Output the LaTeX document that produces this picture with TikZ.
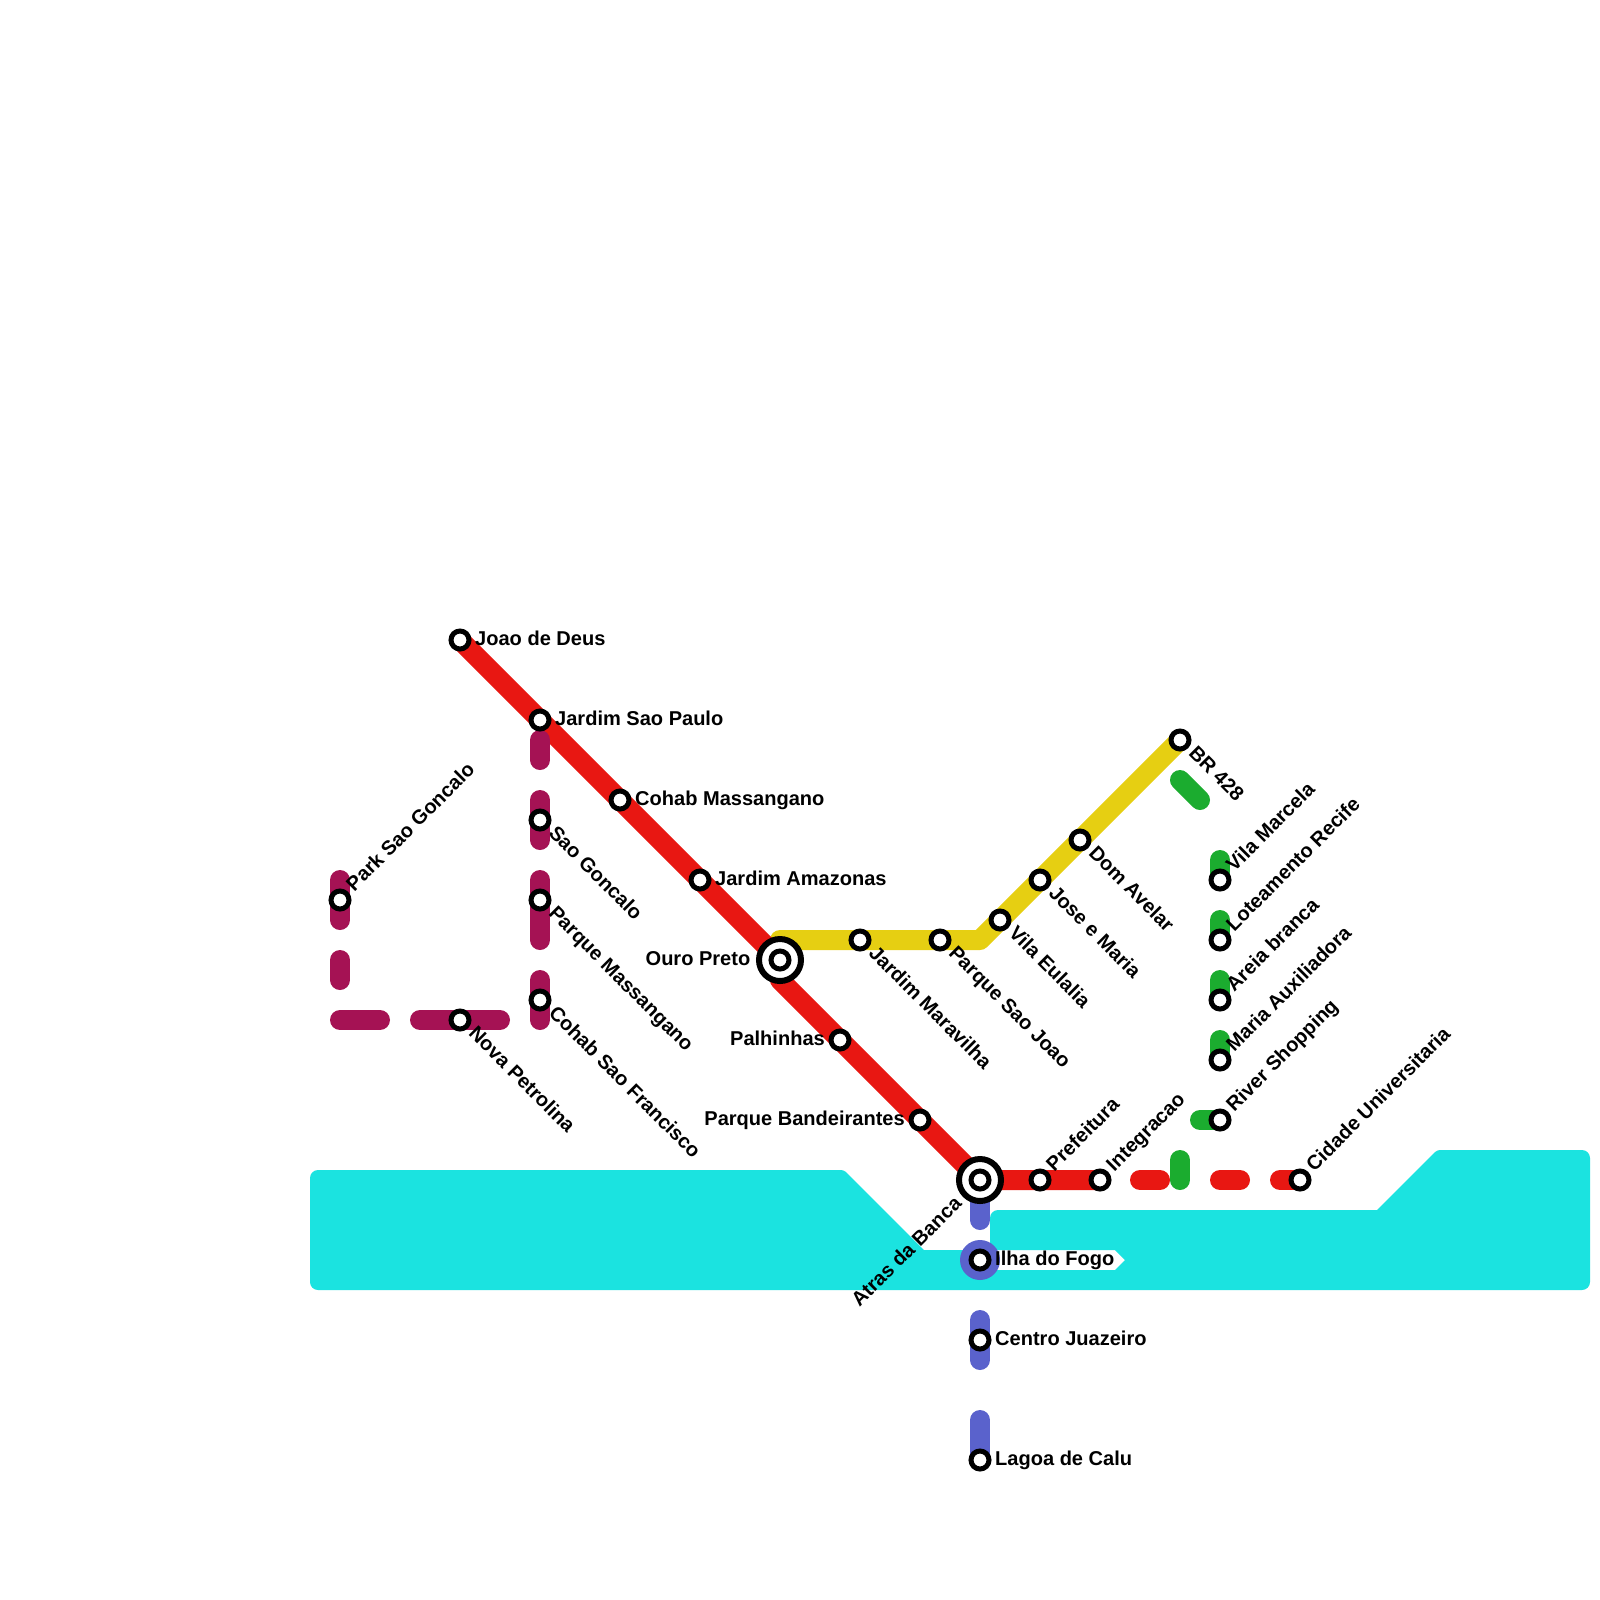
\documentclass[tikz,border=0pt]{standalone}
\usepackage{fontspec}
\setmainfont{Liberation Sans}
\usetikzlibrary{backgrounds}
\definecolor{redline}{HTML}{E81712}
\definecolor{yellowline}{HTML}{E6CF12}
\definecolor{plumline}{HTML}{A51254}
\definecolor{greenline}{HTML}{1BAC2F}
\definecolor{blueline}{HTML}{5A62CC}
\definecolor{water}{HTML}{1BE3E0}
\tikzset{
  route/.style={line width=2mm,line cap=round,line join=round},
  stopdot/.style={circle,draw=black,fill=white,line width=0.5mm,minimum size=1.8mm,inner sep=0pt},
  hubring/.style={circle,draw=black,fill=white,line width=0.6mm,minimum size=4.2mm,inner sep=0pt},
  stoplabel/.style={font=\bfseries\fontsize{5.7}{6.8}\selectfont,inner sep=0pt,text=black,text height=1.44mm,text depth=0pt},
  lblright/.style={stoplabel,anchor=west,shift={(1.45mm,0.2mm)}},
  lblleft/.style={stoplabel,anchor=east,shift={(-1.45mm,0.2mm)}},
  lblup/.style={stoplabel,rotate=45,anchor=west,shift={(1.5mm,0.25mm)}},
  lbldown/.style={stoplabel,rotate=-45,anchor=west,shift={(1.5mm,0.25mm)}}
}

\begin{document}
\begin{tikzpicture}[x=0.2cm,y=-0.2cm]
  \useasboundingbox (0,0) rectangle (80,80);
  % stations
  \node[stopdot] (joao) at (23,32) {};
  \node[stopdot] (jdsaopaulo) at (27,36) {};
  \node[stopdot] (cohabmass) at (31,40) {};
  \node[stopdot] (amazonas) at (35,44) {};
  \node[hubring] (ouro) at (39,48) {};
  \node[stopdot] (ourodot) at (ouro) {};
  \node[stopdot] (palhinhas) at (42,52) {};
  \node[stopdot] (bandeirantes) at (46,56) {};
  \node[hubring] (atras) at (49,59) {};
  \node[stopdot] (atrasdot) at (atras) {};
  \node[stopdot] (prefeitura) at (52,59) {};
  \node[stopdot] (integracao) at (55,59) {};
  \node[stopdot] (cidade) at (65,59) {};
  \node[stopdot] (maravilha) at (43,47) {};
  \node[stopdot] (psjoao) at (47,47) {};
  \node[stopdot] (eulalia) at (50,46) {};
  \node[stopdot] (josemaria) at (52,44) {};
  \node[stopdot] (avelar) at (54,42) {};
  \node[stopdot] (brroad) at (59,37) {};
  \node[stopdot] (marcela) at (61,44) {};
  \node[stopdot] (loteamento) at (61,47) {};
  \node[stopdot] (areia) at (61,50) {};
  \node[stopdot] (auxiliadora) at (61,53) {};
  \node[stopdot] (river) at (61,56) {};
  \node[stopdot] (saogoncalo) at (27,41) {};
  \node[stopdot] (massangano) at (27,45) {};
  \node[stopdot] (saofrancisco) at (27,50) {};
  \node[stopdot] (petrolina) at (23,51) {};
  \node[stopdot] (parksao) at (17,45) {};
  \node[stopdot] (ilha) at (49,63) {};
  \node[stopdot] (centro) at (49,67) {};
  \node[stopdot] (lagoa) at (49,73) {};
  % labels
  \node[lblright] (joaotxt) at (joao) {Joao de Deus};
  \node[lblright] (jdsaopaulotxt) at (jdsaopaulo) {Jardim Sao Paulo};
  \node[lblright] (cohabmasstxt) at (cohabmass) {Cohab Massangano};
  \node[lblright] (amazonastxt) at (amazonas) {Jardim Amazonas};
  \node[lblleft,xshift=-1.45mm] (ourotxt) at (ouro) {Ouro Preto};
  \node[lblleft] (palhinhastxt) at (palhinhas) {Palhinhas};
  \node[lblleft] (bandeirantestxt) at (bandeirantes) {Parque Bandeirantes};
  \node[stoplabel,rotate=45,anchor=east,shift={(-2.9mm,0.2mm)}] (atrastxt) at (atras) {Atras da Banca};
  \node[lblup] (prefeituratxt) at (prefeitura) {Prefeitura};
  \node[lblup] (integracaotxt) at (integracao) {Integracao};
  \node[lblup] (cidadetxt) at (cidade) {Cidade Universitaria};
  \node[lbldown] (maravilhatxt) at (maravilha) {Jardim Maravilha};
  \node[lbldown] (psjoaotxt) at (psjoao) {Parque Sao Joao};
  \node[lbldown] (eulaliatxt) at (eulalia) {Vila Eulalia};
  \node[lbldown] (josemariatxt) at (josemaria) {Jose e Maria};
  \node[lbldown] (avelartxt) at (avelar) {Dom Avelar};
  \node[lbldown] (brroadtxt) at (brroad) {BR 428};
  \node[lblup] (marcelatxt) at (marcela) {Vila Marcela};
  \node[lblup] (loteamentotxt) at (loteamento) {Loteamento Recife};
  \node[lblup] (areiatxt) at (areia) {Areia branca};
  \node[lblup] (auxiliadoratxt) at (auxiliadora) {Maria Auxiliadora};
  \node[lblup] (rivertxt) at (river) {River Shopping};
  \node[lbldown] (saogoncalotxt) at (saogoncalo) {Sao Goncalo};
  \node[lbldown] (massanganotxt) at (massangano) {Parque Massangano};
  \node[lbldown] (saofranciscotxt) at (saofrancisco) {Cohab Sao Francisco};
  \node[lbldown] (petrolinatxt) at (petrolina) {Nova Petrolina};
  \node[lblup] (parksaotxt) at (parksao) {Park Sao Goncalo};
  \node[lblright] (ilhatxt) at (ilha) {Ilha do Fogo};
  \node[lblright] (centrotxt) at (centro) {Centro Juazeiro};
  \node[lblright] (lagoatxt) at (lagoa) {Lagoa de Calu};
  % free ends of the dashes
  \coordinate (redbend) at (39,49);
  \coordinate (redA) at (57,59);
  \coordinate (redB) at (58,59);
  \coordinate (redC) at (61,59);
  \coordinate (redD) at (62,59);
  \coordinate (redE) at (64,59);
  \coordinate (yellowA) at (39,47);
  \coordinate (yellowB) at (49,47);
  \coordinate (greenA) at (59,39);
  \coordinate (greenB) at (60,40);
  \coordinate (greenC) at (61,43);
  \coordinate (greenD) at (61,46);
  \coordinate (greenE) at (61,49);
  \coordinate (greenF) at (61,52);
  \coordinate (greenG) at (60,56);
  \coordinate (greenH) at (59,58);
  \coordinate (greenI) at (59,59);
  \coordinate (plumA) at (27,37);
  \coordinate (plumB) at (27,38);
  \coordinate (plumC) at (27,40);
  \coordinate (plumD) at (27,42);
  \coordinate (plumE) at (27,44);
  \coordinate (plumF) at (27,47);
  \coordinate (plumG) at (27,49);
  \coordinate (plumH) at (27,51);
  \coordinate (plumI) at (21,51);
  \coordinate (plumJ) at (25,51);
  \coordinate (plumK) at (17,51);
  \coordinate (plumL) at (19,51);
  \coordinate (plumM) at (17,48);
  \coordinate (plumN) at (17,49);
  \coordinate (plumO) at (17,44);
  \coordinate (plumP) at (17,46);
  \coordinate (blueA) at (49,61);
  \coordinate (blueB) at (49,66);
  \coordinate (blueC) at (49,68);
  \coordinate (blueD) at (49,71);
  \begin{scope}[on background layer]
    % river
    \fill[water,rounded corners=0.8mm] (15.5,60) -- (15.5,58.5) [rounded corners=0.3mm] -- (42.2,58.5)
      [sharp corners] -- (46.2,62.5) -- (49,62.5) -- (49,63.5) -- (55.75,63.5) -- (56.25,63) -- (55.75,62.5)
      -- (49.5,62.5) [rounded corners=0.8mm] -- (49.5,60.5) [sharp corners] -- (68.85,60.5)
      [rounded corners=0.3mm] -- (71.85,57.5) [rounded corners=0.8mm] -- (79.5,57.5) -- (79.5,64.5) -- (15.5,64.5) -- cycle;
    % lines
    \draw[route,yellowline] (ouro.center) -- (yellowA) -- (maravilha.center) -- (psjoao.center) -- (yellowB)
      -- (eulalia.center) -- (josemaria.center) -- (avelar.center) -- (brroad.center);
    \draw[route,redline] (joao.center) -- (jdsaopaulo.center) -- (cohabmass.center) -- (amazonas.center)
      -- (ouro.center) -- (redbend) -- (palhinhas.center) -- (bandeirantes.center) -- (atras.center)
      -- (prefeitura.center) -- (integracao.center);
    \draw[route,redline] (redA) -- (redB);
    \draw[route,redline] (redC) -- (redD);
    \draw[route,redline] (redE) -- (cidade.center);
    \draw[route,greenline] (greenA) -- (greenB);
    \draw[route,greenline] (greenC) -- (marcela.center);
    \draw[route,greenline] (greenD) -- (loteamento.center);
    \draw[route,greenline] (greenE) -- (areia.center);
    \draw[route,greenline] (greenF) -- (auxiliadora.center);
    \draw[route,greenline] (greenG) -- (river.center);
    \draw[route,greenline] (greenH) -- (greenI);
    \draw[route,plumline] (plumA) -- (plumB);
    \draw[route,plumline] (plumC) -- (plumD);
    \draw[route,plumline] (plumE) -- (plumF);
    \draw[route,plumline] (plumG) -- (plumH);
    \draw[route,plumline] (plumI) -- (plumJ);
    \draw[route,plumline] (plumK) -- (plumL);
    \draw[route,plumline] (plumM) -- (plumN);
    \draw[route,plumline] (plumO) -- (plumP);
    \draw[route,blueline] (atras.center) -- (blueA);
    \draw[route,blueline] (blueB) -- (blueC);
    \draw[route,blueline] (blueD) -- (lagoa.center);
    \node[circle,fill=blueline,minimum size=4mm,inner sep=0pt] (ilhadisc) at (ilha) {};
  \end{scope}
\end{tikzpicture}
\end{document}
